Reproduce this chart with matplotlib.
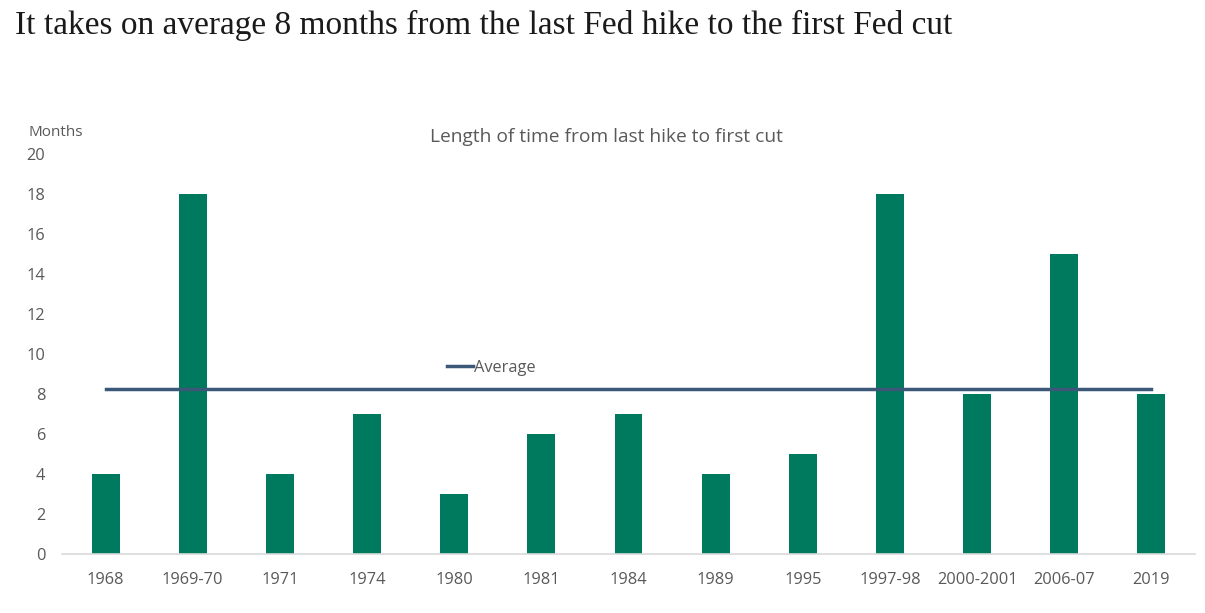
import matplotlib
matplotlib.use("Agg")
import matplotlib.pyplot as plt
import numpy as np

categories = ["1968", "1969-70", "1971", "1974", "1980", "1981", "1984", "1989",
              "1995", "1997-98", "2000-2001", "2006-07", "2019"]
months = [4, 18, 4, 7, 3, 6, 7, 4, 5, 18, 8, 15, 8]
average = [sum(months) / len(months)] * len(months)
yticks = [0, 2, 4, 6, 8, 10, 12, 14, 16, 18, 20]

W, H = 1205, 613
fig = plt.figure(figsize=(W / 100, H / 100), dpi=100)
left, right = 62 / W, 1195 / W
bottom, top = 1 - 554 / H, 1 - 154 / H
ax = fig.add_axes([left, bottom, right - left, top - bottom])

x = np.arange(len(categories))
ax.bar(x, months, width=0.32, color="#007A5E", zorder=2)
ax.plot(x, average, color="#3B5878", lw=2.5, zorder=3, label="Average")

ax.set_xlim(-0.5, len(categories) - 0.5)
ax.set_ylim(0, 20)
ax.set_yticks(yticks)
ax.set_xticks(x)
ax.set_xticklabels(categories)

for s in ["top", "right", "left"]:
    ax.spines[s].set_visible(False)
ax.spines["bottom"].set_color("#D9D9D9")
ax.spines["bottom"].set_linewidth(1.2)
ax.tick_params(axis="both", length=0, labelsize=11.8, labelcolor="#595959")
ax.tick_params(axis="x", pad=13)
ax.tick_params(axis="y", pad=12)
for lab in ax.get_xticklabels() + ax.get_yticklabels():
    lab.set_family("Open Sans")

leg = ax.legend(loc="upper left", bbox_to_anchor=(378 / 1133, 0.502), frameon=False,
                handlelength=1.6, handletextpad=0.1, borderaxespad=0,
                prop={"family": "Open Sans", "size": 11.8})
for t in leg.get_texts():
    t.set_color("#595959")

fig.text(15 / W, 1 - 25 / H, "It takes on average 8 months from the last Fed hike to the first Fed cut",
         family="Liberation Serif", fontsize=24, color="#1a1a1a", va="center", ha="left")
fig.text(606 / W, 1 - 137 / H, "Length of time from last hike to first cut",
         family="Open Sans", fontsize=13.8, color="#595959", va="center", ha="center")
fig.text(28 / W, 1 - 132 / H, "Months", family="Open Sans", fontsize=11,
         color="#595959", va="center", ha="left")

fig.savefig("out.png", dpi=100, facecolor="white")
